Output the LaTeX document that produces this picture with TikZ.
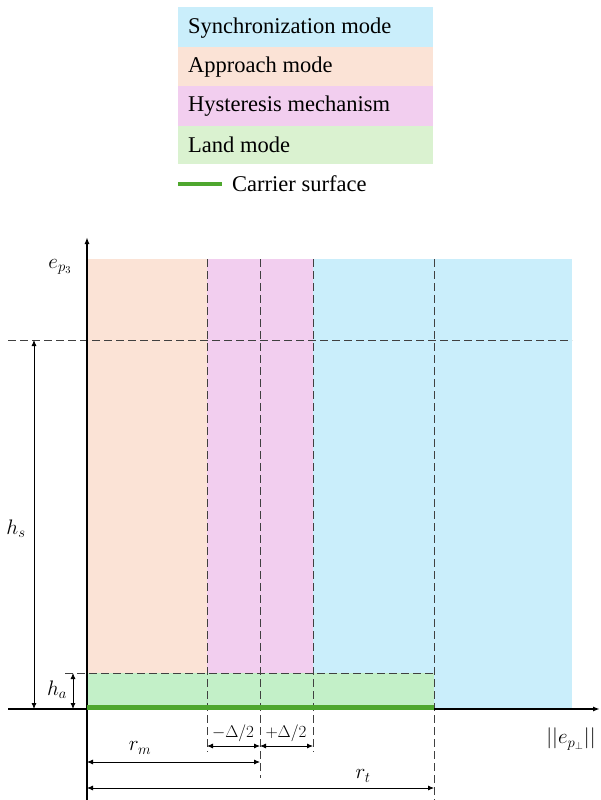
\RequirePackage{fix-cm}
\documentclass[tikz,border=0pt]{standalone}
\usepackage{fontspec}
\setmainfont{Liberation Serif}
\usetikzlibrary{arrows.meta}
\definecolor{syncblue}{HTML}{CAEEFB}
\definecolor{approrange}{HTML}{FBE3D6}
\definecolor{hystpink}{HTML}{F2CEEF}
\definecolor{landleg}{HTML}{DAF2D0}
\definecolor{landplot}{HTML}{C3F0C8}
\definecolor{carriergreen}{HTML}{4EA72E}
\definecolor{dashgray}{HTML}{404040}
\tikzset{
  legtext/.style={anchor=west, inner sep=0pt, font=\fontsize{22.5}{26}\selectfont},
  mathlbl/.style={inner sep=0pt, font=\fontsize{21}{25}\selectfont},
  deltalbl/.style={inner sep=0pt, font=\fontsize{17}{20}\selectfont},
  axisline/.style={line width=1.4pt, black},
  axisarrow/.style={axisline, -{Latex[length=7pt,width=5pt]}},
  guide/.style={dashgray, line width=0.9pt, dash pattern=on 8pt off 4pt},
  dimline/.style={black, line width=0.8pt, {Latex[length=6pt,width=5pt]}-{Latex[length=6pt,width=5pt]}},
  carrierline/.style={carriergreen, line width=4.5pt}
}
\begin{document}
\begin{tikzpicture}[x=1pt,y=-1pt]
\useasboundingbox (0,0) rectangle (601,800);
% ---- legend ----
\fill[syncblue] (178,7) rectangle (433,47);
\fill[approrange] (178,47) rectangle (433,86);
\fill[hystpink] (178,86) rectangle (433,126);
\fill[landleg] (178,126) rectangle (433,164);
\node[legtext] (lsync) at (188,28) {Synchronization mode};
\node[legtext] (lappr) at (188,67) {Approach mode};
\node[legtext] (lhyst) at (188,106) {Hysteresis mechanism};
\node[legtext] (lland) at (188,145) {Land mode};
\coordinate (lcA) at (178,184);
\coordinate (lcB) at (222,184);
\draw[carrierline] (lcA) -- (lcB);
\node[legtext] (lcarr) at (232,184) {Carrier surface};
% ---- region fills ----
\fill[approrange] (87,259) rectangle (207,709);
\fill[hystpink] (207,259) rectangle (313,709);
\fill[syncblue] (313,259) rectangle (572,709);
\fill[landplot] (87,673) rectangle (434,709);
% ---- guide lines ----
\coordinate (hsL) at (8,340);
\coordinate (hsR) at (572,340);
\draw[guide] (hsL) -- (hsR);
\coordinate (haL) at (65,673);
\coordinate (haR) at (434,673);
\draw[guide] (haL) -- (haR);
\coordinate (v1T) at (207,259);
\coordinate (v1B) at (207,752);
\draw[guide] (v1T) -- (v1B);
\coordinate (v2T) at (260,259);
\coordinate (v2B) at (260,778);
\draw[guide] (v2T) -- (v2B);
\coordinate (v3T) at (313,259);
\coordinate (v3B) at (313,752);
\draw[guide] (v3T) -- (v3B);
\coordinate (v4T) at (434,259);
\coordinate (v4B) at (434,800);
\draw[guide] (v4T) -- (v4B);
% ---- axes ----
\coordinate (yB) at (87,800);
\coordinate (yT) at (87,237);
\draw[axisarrow] (yB) -- (yT);
\coordinate (xL) at (8,709);
\coordinate (xR) at (600,709);
\draw[axisarrow] (xL) -- (xR);
% ---- carrier surface ----
\coordinate (csL) at (87,707.5);
\coordinate (csR) at (434,707.5);
\draw[carrierline] (csL) -- (csR);
% ---- dimensions ----
\coordinate (hsT) at (34,340);
\coordinate (hsB) at (34,709);
\draw[dimline] (hsT) -- (hsB);
\coordinate (haT) at (73,673);
\coordinate (haB) at (73,709);
\draw[dimline] (haT) -- (haB);
\coordinate (dmL) at (207,746);
\coordinate (dmR) at (260,746);
\draw[dimline] (dmL) -- (dmR);
\coordinate (dpL) at (260,746);
\coordinate (dpR) at (313,746);
\draw[dimline] (dpL) -- (dpR);
\coordinate (rmL) at (87,762);
\coordinate (rmR) at (260,762);
\draw[dimline] (rmL) -- (rmR);
\coordinate (rtL) at (87,788);
\coordinate (rtR) at (434,788);
\draw[dimline] (rtL) -- (rtR);
% ---- labels ----
\node[mathlbl] (lep3) at (60,267) {$e_{p_3}$};
\node[mathlbl] (lhs) at (16,529) {$h_s$};
\node[mathlbl] (lha) at (57,690) {$h_a$};
\node[deltalbl] (ldm) at (233,733) {$-\Delta/2$};
\node[deltalbl] (ldp) at (286,733) {$+\Delta/2$};
\node[mathlbl] (lrm) at (140,748) {$r_m$};
\node[mathlbl] (lrt) at (363,776) {$r_t$};
\node[mathlbl] (lepp) at (571,739) {$||e_{p_\perp}||$};
\end{tikzpicture}
\end{document}
